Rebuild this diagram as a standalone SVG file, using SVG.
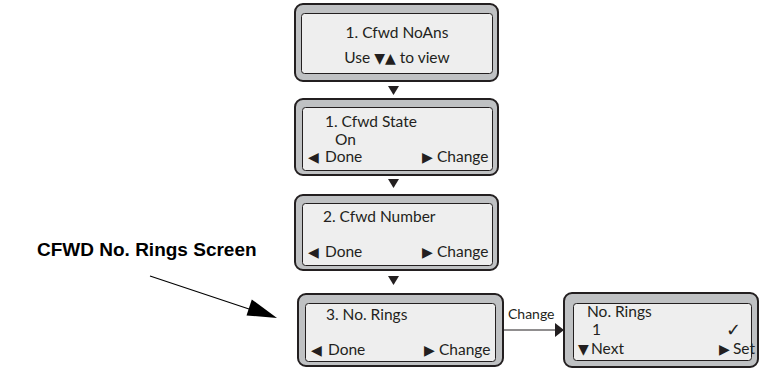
<svg xmlns="http://www.w3.org/2000/svg" width="761" height="368" viewBox="0 0 761 368">
<defs>
<style>
.outer{fill:#bfc1c3;stroke:#231f20;stroke-width:2}
.inner{fill:#eeeeee;stroke:#231f20;stroke-width:1}
.t{font-family:Lato,"Open Sans","DejaVu Sans",sans-serif;font-size:15.5px;fill:#231f20}
.sym{font-family:"DejaVu Sans",sans-serif;font-size:14px;fill:#231f20}
.chk{font-family:"DejaVu Sans",sans-serif;font-size:18px;fill:#231f20}
.lbl{font-family:Lato,"Open Sans","DejaVu Sans",sans-serif;font-size:14px;fill:#231f20}
.big{font-family:"Liberation Sans",Arial,sans-serif;font-size:19px;font-weight:bold;fill:#000}
.tri{fill:#231f20}
</style>
</defs>
<g id="screen1">
<rect class="outer" x="295" y="4" width="203" height="77" rx="8"/>
<rect class="inner" x="301.5" y="13.5" width="191" height="60" rx="3"/>
<text class="t" x="397" y="38" text-anchor="middle">1. Cfwd NoAns</text>
<text class="t" x="397" y="63" text-anchor="middle">Use <tspan class="sym">▼▲</tspan> to view</text>
</g>
<g id="screen2">
<rect class="outer" x="295" y="99" width="203" height="76" rx="8"/>
<rect class="inner" x="302.5" y="107.5" width="190" height="63" rx="3"/>
<text class="t" x="325" y="127">1. Cfwd State</text>
<text class="t" x="335" y="144.5">On</text>
<text class="t" y="162"><tspan class="sym" x="308">◀</tspan><tspan x="325">Done</tspan></text>
<text class="t" y="162"><tspan class="sym" x="422">▶</tspan><tspan x="437">Change</tspan></text>
</g>
<g id="screen3">
<rect class="outer" x="295" y="195" width="203" height="75" rx="8"/>
<rect class="inner" x="302.5" y="203.5" width="190" height="62" rx="3"/>
<text class="t" x="323" y="222">2. Cfwd Number</text>
<text class="t" y="257"><tspan class="sym" x="308">◀</tspan><tspan x="325">Done</tspan></text>
<text class="t" y="257"><tspan class="sym" x="422">▶</tspan><tspan x="437">Change</tspan></text>
</g>
<g id="screen4">
<rect class="outer" x="298" y="294" width="205" height="72" rx="8"/>
<rect class="inner" x="305.5" y="303.5" width="190" height="58" rx="3"/>
<text class="t" x="326" y="320">3. No. Rings</text>
<text class="t" y="355"><tspan class="sym" x="311">◀</tspan><tspan x="328">Done</tspan></text>
<text class="t" y="355"><tspan class="sym" x="424">▶</tspan><tspan x="439">Change</tspan></text>
</g>
<g id="screen5">
<rect class="outer" x="564" y="293" width="194" height="74" rx="8"/>
<rect class="inner" x="573.5" y="303.5" width="178" height="57" rx="3"/>
<text class="t" x="587" y="317">No. Rings</text>
<text class="t" x="592" y="335">1</text>
<text class="chk" x="726" y="336">✓</text>
<text class="t" y="354"><tspan class="sym" x="578">▼</tspan><tspan x="591">Next</tspan></text>
<text class="t" y="354"><tspan class="sym" x="719">▶</tspan><tspan x="733">Set</tspan></text>
</g>
<g id="callout">
<text class="big" x="37" y="256">CFWD No. Rings Screen</text>
</g>
<g id="connectors">
<polygon class="tri" points="388,86 399,86 393.5,95"/>
<polygon class="tri" points="388,179 399,179 393.5,188"/>
<polygon class="tri" points="388,276 399,276 393.5,285"/>
<line x1="503" y1="330" x2="557" y2="330" stroke="#231f20" stroke-width="1.2"/>
<polygon class="tri" points="555,323 564,330 555,337"/>
<text class="lbl" x="508" y="319">Change</text>
<line x1="150" y1="276" x2="252" y2="310" stroke="#000" stroke-width="1.2"/>
<polygon points="277,318 246.5,315.5 251.8,299.5" fill="#000"/>
</g>
</svg>
